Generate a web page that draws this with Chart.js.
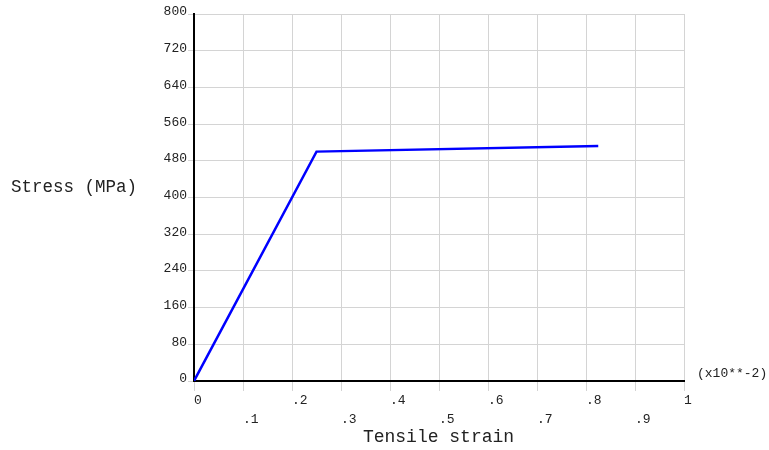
<!DOCTYPE html>
<html>
<head>
<meta charset="utf-8">
<script src="https://cdn.jsdelivr.net/npm/chart.js@4/dist/chart.umd.min.js"></script>
<style>
  html, body { margin: 0; padding: 0; background: #ffffff; }
  #wrap { width: 769px; height: 450px; }
</style>
</head>
<body>
<div id="wrap"><canvas id="c" width="769" height="450"></canvas></div>
<script>
// Stress-strain curve (strain in units of 1e-2)
const strain = [0, 0.25, 0.825];
const stress = [0, 500, 512];

// Axis tick labels
const xTickLabels = ['0', '.1', '.2', '.3', '.4', '.5', '.6', '.7', '.8', '.9', '1'];
const yTickLabels = ['0', '80', '160', '240', '320', '400', '480', '560', '640', '720', '800'];

// Axis captions
const yCaption = 'Stress (MPa)';
const xCaption = 'Tensile strain';
const xMultiplier = '(x10**-2)';

const MONO = '"Liberation Mono", "Courier New", monospace';
const GRID = '#d4d4d4';
const TEXT = '#222222';

const points = strain.map((s, i) => ({ x: s, y: stress[i] }));

const captions = {
  id: 'captions',
  afterDraw(chart) {
    const ctx = chart.ctx;
    ctx.save();
    ctx.fillStyle = TEXT;
    ctx.textBaseline = 'middle';

    ctx.font = '17.5px ' + MONO;
    ctx.textAlign = 'left';
    ctx.fillText(yCaption, 11, 187);

    ctx.font = '18px ' + MONO;
    ctx.textAlign = 'center';
    ctx.fillText(xCaption, 438.5, 437);

    ctx.font = '13px ' + MONO;
    ctx.textAlign = 'left';
    ctx.fillText(xMultiplier, 697, 374);
    ctx.restore();
  }
};

new Chart(document.getElementById('c'), {
  type: 'line',
  data: {
    datasets: [{
      data: points,
      borderColor: '#0000ff',
      borderWidth: 2.5,
      pointRadius: 0,
      tension: 0,
      fill: false
    }]
  },
  options: {
    responsive: false,
    animation: false,
    layout: { padding: { left: 0, top: 14, right: 85, bottom: 0 } },
    plugins: {
      legend: { display: false },
      tooltip: { enabled: false }
    },
    scales: {
      x: {
        type: 'linear',
        min: 0,
        max: 1,
        afterFit(scale) { scale.height = 69; },
        afterBuildTicks(scale) {
          scale.ticks = xTickLabels.map((_, i) => ({ value: i / 10 }));
        },
        ticks: {
          autoSkip: false,
          maxRotation: 0,
          minRotation: 0,
          align: 'start',
          padding: 0,
          color: TEXT,
          font: { family: MONO, size: 13, lineHeight: 1.46 },
          callback: (v, i) => (i % 2 ? ['', xTickLabels[i]] : xTickLabels[i])
        },
        grid: { color: GRID, lineWidth: 1, tickLength: 10, drawTicks: true },
        border: { display: true, color: '#000000', width: 2 }
      },
      y: {
        type: 'linear',
        min: 0,
        max: 800,
        afterFit(scale) { scale.width = 194; },
        afterBuildTicks(scale) {
          scale.ticks = yTickLabels.map(t => ({ value: Number(t) }));
        },
        ticks: {
          autoSkip: false,
          padding: 1,
          labelOffset: -2,
          color: TEXT,
          font: { family: MONO, size: 13 },
          callback: (v, i) => yTickLabels[i]
        },
        grid: { color: GRID, lineWidth: 1, tickLength: 6, drawTicks: true },
        border: { display: true, color: '#000000', width: 2 }
      }
    }
  },
  plugins: [captions]
});
</script>
</body>
</html>
